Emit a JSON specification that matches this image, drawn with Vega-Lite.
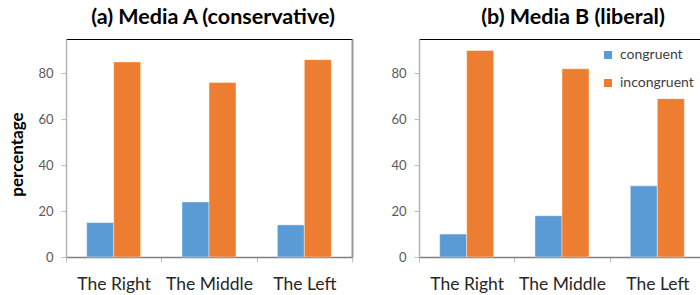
{
  "$schema": "https://vega.github.io/schema/vega-lite/v6.json",
  "padding": {"left": 8, "top": 6, "right": 0, "bottom": 0},
  "background": "#ffffff",
  "data": {"values": [
    {"media": "A", "group": "The Right", "type": "congruent", "pct": 15},
    {"media": "A", "group": "The Right", "type": "incongruent", "pct": 85},
    {"media": "A", "group": "The Middle", "type": "congruent", "pct": 24},
    {"media": "A", "group": "The Middle", "type": "incongruent", "pct": 76},
    {"media": "A", "group": "The Left", "type": "congruent", "pct": 14},
    {"media": "A", "group": "The Left", "type": "incongruent", "pct": 86},
    {"media": "B", "group": "The Right", "type": "congruent", "pct": 10},
    {"media": "B", "group": "The Right", "type": "incongruent", "pct": 90},
    {"media": "B", "group": "The Middle", "type": "congruent", "pct": 18},
    {"media": "B", "group": "The Middle", "type": "incongruent", "pct": 82},
    {"media": "B", "group": "The Left", "type": "congruent", "pct": 31},
    {"media": "B", "group": "The Left", "type": "incongruent", "pct": 69}
  ]},
  "spacing": 37,
  "hconcat": [
    {
      "title": {"text": "(a) Media A (conservative)", "dx": 4},
      "width": 286,
      "height": 218,
      "transform": [{"filter": "datum.media === 'A'"}],
      "layer": [
        {
          "mark": {"type": "bar", "stroke": "#ffffff", "strokeWidth": 0.8, "strokeOpacity": 0.5},
          "encoding": {
            "x": {"field": "group", "type": "nominal", "sort": ["The Right", "The Middle", "The Left"],
                  "scale": {"paddingInner": 0, "paddingOuter": 0},
                  "axis": {"orient": "bottom", "title": null, "tickBand": "extent", "domainColor": "#7f7f7f", "domainWidth": 1.5, "tickColor": "#bfbfbf", "tickSize": 5, "labelFontSize": 17.5, "labelColor": "#262626", "labelAngle": 0, "labelPadding": 27, "labelBaseline": "alphabetic"}},
            "xOffset": {"field": "type", "type": "nominal", "scale": {"paddingInner": 0, "paddingOuter": 0.765}},
            "y": {"field": "pct", "type": "quantitative", "scale": {"domain": [0, 95], "nice": false},
                  "axis": {"title": "percentage", "values": [0, 20, 40, 60, 80], "tickSize": 5, "tickColor": "#bfbfbf", "domainColor": "#b3b3b3", "domainWidth": 1.5, "labelFontSize": 13, "labelColor": "#595959", "labelPadding": 8, "titleFontSize": 17, "titleFontWeight": "bold", "titleX": -44, "titleY": 115, "titleBaseline": "alphabetic", "titleColor": "#000000", "titleAngle": 270, "titleAlign": "center"}},
            "color": {"field": "type", "type": "nominal", "scale": {"domain": ["congruent", "incongruent"], "range": ["#5B9BD5", "#ED7D31"]}, "legend": null}
          }
        },
        {
          "mark": {"type": "rule", "opacity": 0},
          "encoding": {
            "x": {"field": "group", "type": "nominal", "sort": ["The Right", "The Middle", "The Left"],
                  "axis": {"orient": "top", "labels": false, "ticks": false, "title": null, "domainColor": "#000000", "domainWidth": 1}},
            "y": {"field": "pct", "type": "quantitative",
                  "axis": {"orient": "right", "labels": false, "ticks": false, "title": null, "domainColor": "#999999", "domainWidth": 2}}
          }
        }
      ],
      "resolve": {"axis": {"x": "independent", "y": "independent"}}
    },
    {
      "title": {"text": "(b) Media B (liberal)", "dx": 11},
      "width": 286,
      "height": 218,
      "transform": [{"filter": "datum.media === 'B'"}],
      "layer": [
        {
          "mark": {"type": "bar", "stroke": "#ffffff", "strokeWidth": 0.8, "strokeOpacity": 0.5},
          "encoding": {
            "x": {"field": "group", "type": "nominal", "sort": ["The Right", "The Middle", "The Left"],
                  "scale": {"paddingInner": 0, "paddingOuter": 0},
                  "axis": {"orient": "bottom", "title": null, "tickBand": "extent", "domainColor": "#7f7f7f", "domainWidth": 1.5, "tickColor": "#bfbfbf", "tickSize": 5, "labelFontSize": 17.5, "labelColor": "#262626", "labelAngle": 0, "labelPadding": 27, "labelBaseline": "alphabetic"}},
            "xOffset": {"field": "type", "type": "nominal", "scale": {"paddingInner": 0, "paddingOuter": 0.765}},
            "y": {"field": "pct", "type": "quantitative", "scale": {"domain": [0, 95], "nice": false},
                  "axis": {"title": null, "values": [0, 20, 40, 60, 80], "tickSize": 5, "tickColor": "#bfbfbf", "domainColor": "#b3b3b3", "domainWidth": 1.5, "labelFontSize": 13, "labelColor": "#595959", "labelPadding": 8}},
            "color": {"field": "type", "type": "nominal", "scale": {"domain": ["congruent", "incongruent"], "range": ["#5B9BD5", "#ED7D31"]},
                      "legend": {"title": null, "orient": "none", "legendX": 182, "legendY": 9, "symbolType": "square", "symbolSize": 64, "symbolStrokeWidth": 0, "labelFontSize": 14, "labelColor": "#404040", "rowPadding": 14, "labelOffset": 5, "padding": 0}}
          }
        },
        {
          "mark": {"type": "rule", "opacity": 0},
          "encoding": {
            "x": {"field": "group", "type": "nominal", "sort": ["The Right", "The Middle", "The Left"],
                  "axis": {"orient": "top", "labels": false, "ticks": false, "title": null, "domainColor": "#000000", "domainWidth": 1}},
            "y": {"field": "pct", "type": "quantitative",
                  "axis": {"orient": "right", "labels": false, "ticks": false, "title": null, "domainColor": "#999999", "domainWidth": 2}}
          }
        }
      ],
      "resolve": {"axis": {"x": "independent", "y": "independent"}}
    }
  ],
  "resolve": {"scale": {"color": "independent"}, "legend": {"color": "independent"}},
  "config": {
    "font": "Lato",
    "view": {"stroke": null},
    "axis": {"grid": false},
    "title": {"fontSize": 21.5, "fontWeight": "bold", "color": "#000000", "baseline": "alphabetic", "offset": 11, "frame": "group", "anchor": "middle"}
  }
}
